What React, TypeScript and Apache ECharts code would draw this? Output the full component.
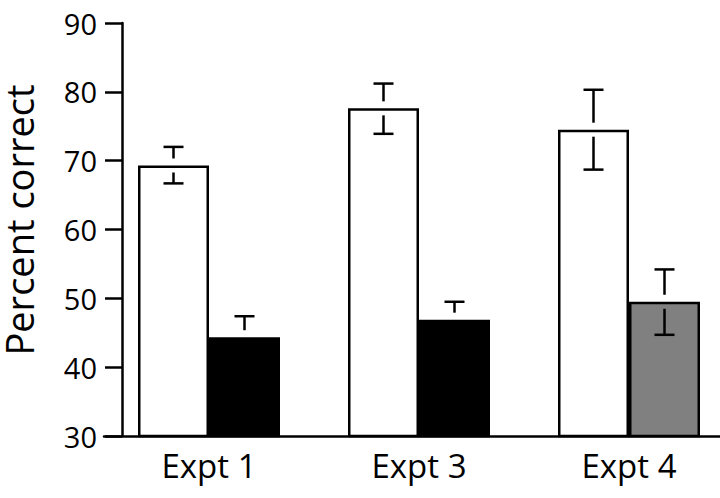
import React, { useEffect, useRef } from "react";
import * as echarts from "echarts";

const categories = ["Expt 1", "Expt 3", "Expt 4"];
const whiteValues = [69.3, 77.6, 74.5];
const whiteLower = [66.7, 73.9, 68.7];
const whiteUpper = [72.0, 81.2, 80.3];
const darkValues = [44.35, 46.9, 49.5];
const darkLower = [41.3, 44.3, 44.7];
const darkUpper = [47.4, 49.5, 54.2];
const darkColors = ["#000000", "#000000", "#808080"];
const yTicks = [30, 40, 50, 60, 70, 80, 90];

const BAR_W = 71;
const GAP = 7;
const CAP = 20;
const LW = 2.5;

function errorRenderer(offset: number) {
  return (params: any, api: any) => {
    const idx = api.value(0);
    const mean = api.value(1);
    const lo = api.value(2);
    const hi = api.value(3);
    const pm = api.coord([idx, mean]);
    const pl = api.coord([idx, lo]);
    const ph = api.coord([idx, hi]);
    const x = pm[0] + offset;
    const style = { stroke: "#000", lineWidth: LW, fill: "none" };
    return {
      type: "group",
      children: [
        { type: "line", shape: { x1: x, y1: ph[1], x2: x, y2: pm[1] - GAP }, style },
        { type: "line", shape: { x1: x - CAP / 2, y1: ph[1], x2: x + CAP / 2, y2: ph[1] }, style },
        { type: "line", shape: { x1: x, y1: pm[1] + GAP, x2: x, y2: pl[1] }, style },
        { type: "line", shape: { x1: x - CAP / 2, y1: pl[1], x2: x + CAP / 2, y2: pl[1] }, style },
      ],
    };
  };
}

export default function App() {
  const ref = useRef<HTMLDivElement>(null);
  useEffect(() => {
    if (!ref.current) return;
    const chart = echarts.init(ref.current, null, { renderer: "svg" });
    chart.setOption({
      animation: false,
      backgroundColor: "#ffffff",
      grid: { left: 104, right: 0, top: 23, bottom: 62 },
      xAxis: {
        type: "category",
        data: categories,
        axisLine: { lineStyle: { color: "#000", width: LW } },
        axisTick: { show: false },
        axisLabel: {
          color: "#000",
          fontFamily: "Open Sans",
          fontSize: 33,
          margin: 13,
        },
      },
      yAxis: {
        type: "value",
        min: 30,
        max: 90,
        interval: 10,
        offset: -18,
        axisLine: { show: true, lineStyle: { color: "#000", width: LW } },
        axisTick: { show: true, length: 17, lineStyle: { color: "#000", width: LW } },
        splitLine: { show: false },
        axisLabel: {
          color: "#000",
          fontFamily: "Open Sans",
          fontSize: 29,
          margin: 25,
          formatter: (v: number) => (yTicks.includes(v) ? String(v) : ""),
        },
      },
      graphic: [
        {
          type: "text",
          x: 19,
          y: 220,
          rotation: Math.PI / 2,
          style: {
            text: "Percent correct",
            fontFamily: "Open Sans",
            fontSize: 38,
            lineHeight: 36,
            fill: "#000",
            align: "center",
            verticalAlign: "middle",
          },
        },
      ],
      series: [
        {
          type: "bar",
          data: whiteValues,
          barWidth: BAR_W,
          barGap: "0%",
          itemStyle: { color: "#ffffff", borderColor: "#000", borderWidth: LW },
        },
        {
          type: "bar",
          data: darkValues.map((v, i) => ({ value: v, itemStyle: { color: darkColors[i] } })),
          barWidth: BAR_W,
          barGap: "0%",
          itemStyle: { borderColor: "#000", borderWidth: LW },
        },
        {
          type: "custom",
          renderItem: errorRenderer(-BAR_W / 2),
          data: whiteValues.map((v, i) => [i, v, whiteLower[i], whiteUpper[i]]),
          z: 10,
        },
        {
          type: "custom",
          renderItem: errorRenderer(BAR_W / 2),
          data: darkValues.map((v, i) => [i, v, darkLower[i], darkUpper[i]]),
          z: 10,
        },
      ],
    });
    return () => chart.dispose();
  }, []);
  return (
    <div
      style={{
        position: "fixed",
        left: 0,
        top: 0,
        width: 720,
        height: 498,
        overflow: "hidden",
        background: "#fff",
      }}
    >
      <div ref={ref} style={{ width: 734, height: 498 }} />
    </div>
  );
}
